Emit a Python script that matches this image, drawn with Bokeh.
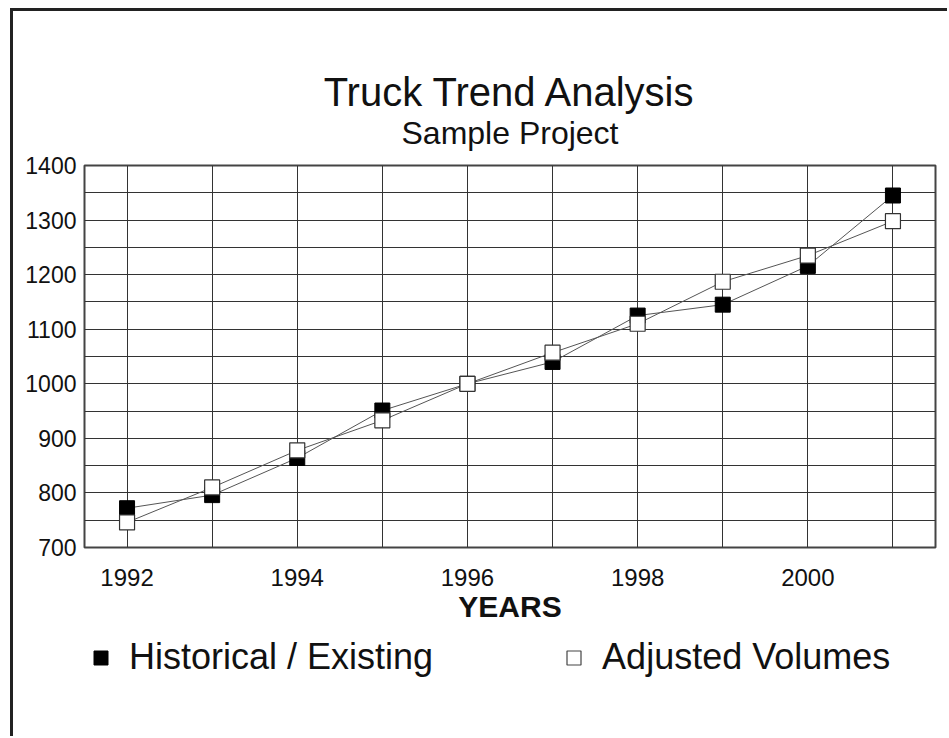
from bokeh.plotting import figure
from bokeh.layouts import column
from bokeh.models import Range1d, FixedTicker, Title, Legend, LegendItem
from bokeh.embed import file_html
from bokeh.resources import INLINE

years = [1992, 1993, 1994, 1995, 1996, 1997, 1998, 1999, 2000, 2001]
historical = [772, 796, 864, 951, 1000, 1040, 1125, 1145, 1216, 1345]
adjusted = [746, 810, 878, 933, 1000, 1057, 1110, 1187, 1235, 1298]
x_label_years = [1992, 1994, 1996, 1998, 2000]
y_ticks = [700, 800, 900, 1000, 1100, 1200, 1300, 1400]
y_grid = [700, 750, 800, 850, 900, 950, 1000, 1050, 1100, 1150, 1200, 1250, 1300, 1350, 1400]
series_labels = ["Historical / Existing", "Adjusted Volumes"]

FONT = "Liberation Sans"
CANVAS_W = 934

p = figure(frame_width=851, frame_height=382, output_backend="svg", toolbar_location=None,
           x_range=Range1d(1991.5, 2001.5), y_range=Range1d(700, 1400),
           title_location=None,
           min_border_left=71, min_border_right=12, min_border_top=154, min_border_bottom=85)
p.background_fill_color = "white"
p.border_fill_color = "white"
p.outline_line_color = "#444"
p.outline_line_width = 2

p.add_layout(Title(text="Sample Project", align="center", text_font=FONT,
                   text_font_size="32px", text_font_style="normal", text_color="#111",
                   standoff=29), "above")
p.add_layout(Title(text="Truck Trend Analysis", align="center", text_font=FONT,
                   text_font_size="40px", text_font_style="normal", text_color="#111",
                   standoff=-31), "above")

p.xaxis.ticker = FixedTicker(ticks=x_label_years)
p.yaxis.ticker = FixedTicker(ticks=y_ticks)
p.xgrid.ticker = FixedTicker(ticks=years)
p.ygrid.ticker = FixedTicker(ticks=y_grid)
for g in (p.xgrid, p.ygrid):
    g.grid_line_color = "#333"
    g.grid_line_width = 1
    g.grid_line_alpha = 1

for ax in (p.xaxis, p.yaxis):
    ax.axis_line_color = None
    ax.major_tick_out = 0
    ax.major_tick_in = 0
    ax.minor_tick_out = 0
    ax.minor_tick_in = 0
    ax.major_label_text_font = FONT
    ax.major_label_text_color = "#111"

p.yaxis.major_label_text_font_size = "23px"
p.yaxis.major_label_standoff = 8
p.xaxis.major_label_text_font_size = "24px"
p.xaxis.major_label_standoff = 21
p.xaxis.axis_label = "YEARS"
p.xaxis.axis_label_text_font = FONT
p.xaxis.axis_label_text_font_size = "30px"
p.xaxis.axis_label_text_font_style = "bold"
p.xaxis.axis_label_text_color = "#111"
p.xaxis.axis_label_standoff = 1

p.line(years, historical, line_color="#555", line_width=1)
p.line(years, adjusted, line_color="#555", line_width=1)
p.scatter(years, historical, marker="square", size=15,
          fill_color="black", line_color="black", line_width=1)
p.scatter(years, adjusted, marker="square", size=15,
          fill_color="white", line_color="#333", line_width=1.2)

# Legend strip below the chart (its own series renderers lie outside its range,
# so only the legend entries are visible)
leg_fig = figure(width=CANVAS_W, height=104, output_backend="svg", toolbar_location=None,
                 x_range=Range1d(0, CANVAS_W), y_range=Range1d(0, 104),
                 x_axis_type=None, y_axis_type=None, title_location=None,
                 min_border_left=0, min_border_right=0, min_border_top=0, min_border_bottom=0)
leg_fig.outline_line_color = None
leg_fig.background_fill_color = "white"
leg_fig.border_fill_color = "white"
d_hist = leg_fig.scatter(years, historical, marker="square", size=15,
                         fill_color="black", line_color="black", line_width=1)
d_adj = leg_fig.scatter(years, adjusted, marker="square", size=15,
                        fill_color="white", line_color="#444", line_width=1.2)
legend = Legend(items=[LegendItem(label=series_labels[0], renderers=[d_hist]),
                       LegendItem(label=series_labels[1], renderers=[d_adj])],
                orientation="horizontal", location=(-1, 58),
                label_text_font=FONT, label_text_font_size="36px", label_text_color="#111",
                glyph_width=35, glyph_height=35, label_standoff=11, spacing=123,
                padding=0, margin=0, border_line_color=None, background_fill_alpha=0)
leg_fig.add_layout(legend, "center")

layout = column(p, leg_fig, spacing=0)
layout.margin = (8, 0, 0, 10)
layout.styles = {"border-left": "3px solid #222", "border-top": "3px solid #222"}

open("out.html", "w").write(file_html(layout, INLINE))
